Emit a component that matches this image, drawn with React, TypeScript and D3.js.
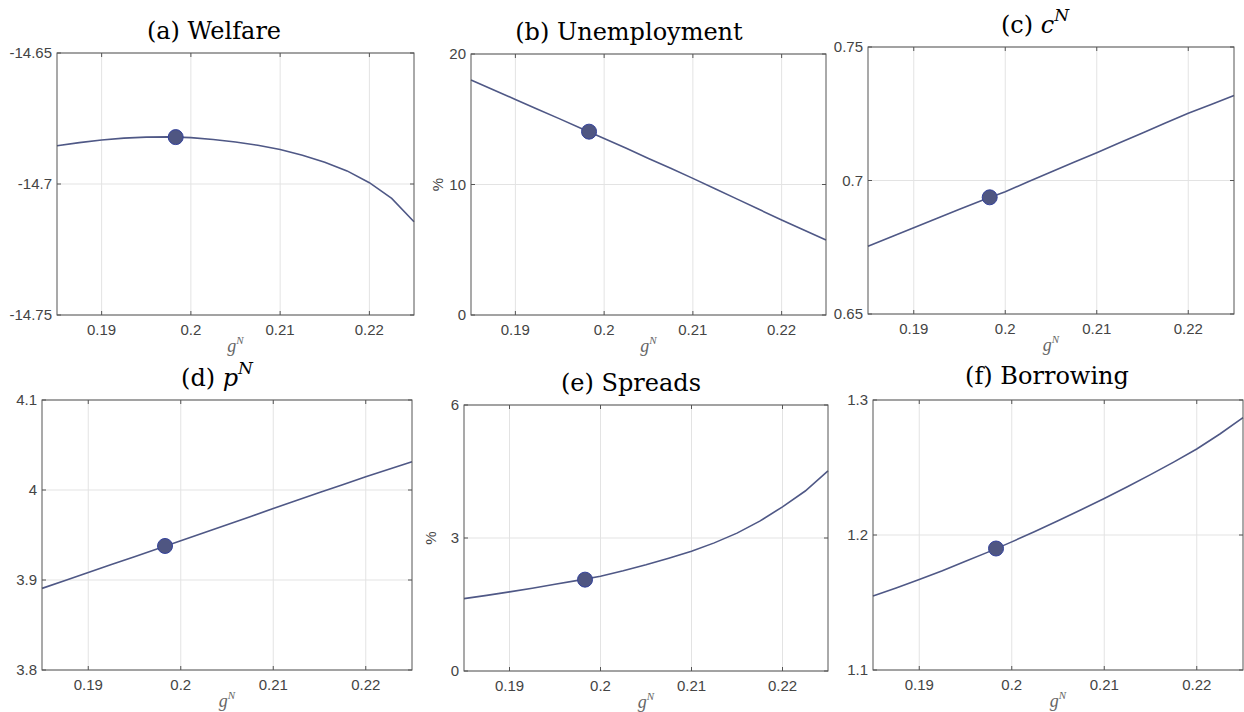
import React from 'react';
import * as d3 from 'd3';

// g^N grid (horizontal axis of every panel)
const gGrid = [
  0.185, 0.1875, 0.19, 0.1925, 0.195, 0.1975, 0.2, 0.2025, 0.205,
  0.2075, 0.21, 0.2125, 0.215, 0.2175, 0.22, 0.2225, 0.225,
];

// series
const welfare = [
  -14.6854, -14.6842, -14.6832, -14.6825, -14.6821, -14.682, -14.6823, -14.683, -14.684,
  -14.6852, -14.6868, -14.689, -14.6917, -14.695, -14.6995, -14.7055, -14.7144,
];
const unemployment = [
  18.0, 17.26, 16.52, 15.77, 15.03, 14.28, 13.53, 12.77, 12.0,
  11.24, 10.47, 9.68, 8.88, 8.08, 7.28, 6.51, 5.75,
];
const consumptionN = [
  0.6754, 0.6788, 0.6823, 0.6858, 0.6892, 0.6926, 0.6958, 0.6995, 0.7032,
  0.7068, 0.7104, 0.7141, 0.7178, 0.7215, 0.7252, 0.7285, 0.7318,
];
const priceN = [
  3.8907, 3.8995, 3.9083, 3.9171, 3.9259, 3.9347, 3.9435, 3.9524, 3.9613,
  3.9702, 3.9795, 3.9883, 3.9971, 4.0059, 4.0146, 4.023, 4.0314,
];
const spreads = [
  1.633, 1.705, 1.784, 1.866, 1.958, 2.045, 2.138, 2.26, 2.395,
  2.545, 2.703, 2.89, 3.11, 3.38, 3.703, 4.06, 4.516,
];
const borrowing = [
  1.1549, 1.1608, 1.167, 1.1735, 1.1805, 1.1875, 1.1949, 1.2026, 1.2105,
  1.2187, 1.227, 1.2357, 1.2447, 1.254, 1.2637, 1.2748, 1.2869,
];

// calibrated point (circle marker)
const markerG = 0.1983;
const markerValues = [-14.6821, 14.05, 0.6937, 3.9378, 2.061, 1.19];

const xDomain = [0.185, 0.225];
const xTicks = [0.19, 0.2, 0.21, 0.22];

const titlePrefix = ['(a)', '(b)', '(c)', '(d)', '(e)', '(f)'];
const titleName = ['Welfare', 'Unemployment', 'c', 'p', 'Spreads', 'Borrowing'];
const titleSup = ['', '', 'N', 'N', '', ''];
const yDomains = [[-14.75, -14.65], [0, 20], [0.65, 0.75], [3.8, 4.1], [0, 6], [1.1, 1.3]];
const yTicks = [
  [-14.75, -14.7, -14.65],
  [0, 10, 20],
  [0.65, 0.7, 0.75],
  [3.8, 3.9, 4, 4.1],
  [0, 3, 6],
  [1.1, 1.2, 1.3],
];
const yUnits = ['', '%', '', '', '%', ''];
const series = [welfare, unemployment, consumptionN, priceN, spreads, borrowing];

const layout = [
  { left: 57, top: 53, right: 414, bottom: 315, titleX: 214, titleY: 39 },
  { left: 471, top: 54, right: 826, bottom: 315, titleX: 629, titleY: 40 },
  { left: 868, top: 47, right: 1234, bottom: 314, titleX: 1035, titleY: 33 },
  { left: 42, top: 400, right: 412, bottom: 670, titleX: 217, titleY: 386 },
  { left: 464, top: 405, right: 828, bottom: 671, titleX: 631, titleY: 391 },
  { left: 873, top: 400, right: 1243, bottom: 670, titleX: 1047, titleY: 384 },
];

const LINE = '#4f5886';
const GRID = '#e3e3e3';
const AXIS = '#555555';
const TICKTXT = '#444444';
const sans = '"Liberation Sans", Arial, sans-serif';
const serif = '"DejaVu Serif", "Liberation Serif", serif';

const Panel = ({ i }: { i: number }) => {
  const b = layout[i];
  const x = d3.scaleLinear().domain(xDomain).range([b.left, b.right]);
  const y = d3.scaleLinear().domain(yDomains[i]).range([b.bottom, b.top]);
  const line = d3
    .line<number>()
    .x((_, k) => x(gGrid[k]))
    .y((d) => y(d));
  const tk = 4;
  const midY = (b.top + b.bottom) / 2;

  return (
    <g>
      {/* grid */}
      {xTicks.map((t) => (
        <line key={'gx' + t} x1={x(t)} x2={x(t)} y1={b.top} y2={b.bottom} stroke={GRID} strokeWidth={1} />
      ))}
      {yTicks[i].map((t) => (
        <line key={'gy' + t} x1={b.left} x2={b.right} y1={y(t)} y2={y(t)} stroke={GRID} strokeWidth={1} />
      ))}

      {/* curve + marker */}
      <path d={line(series[i]) || ''} fill="none" stroke={LINE} strokeWidth={1.6} />
      <circle cx={x(markerG)} cy={y(markerValues[i])} r={7.5} fill="#4f5682" stroke="#34429c" strokeWidth={1} />

      {/* box */}
      <rect x={b.left} y={b.top} width={b.right - b.left} height={b.bottom - b.top} fill="none" stroke={AXIS} strokeWidth={1} />

      {/* ticks on all four sides */}
      {xTicks.map((t) => (
        <g key={'tx' + t}>
          <line x1={x(t)} x2={x(t)} y1={b.bottom} y2={b.bottom - tk} stroke={AXIS} />
          <line x1={x(t)} x2={x(t)} y1={b.top} y2={b.top + tk} stroke={AXIS} />
          <text x={x(t)} y={b.bottom + 20} textAnchor="middle" fontFamily={sans} fontSize={15} fill={TICKTXT}>
            {String(t)}
          </text>
        </g>
      ))}
      {yTicks[i].map((t) => (
        <g key={'ty' + t}>
          <line x1={b.left} x2={b.left + tk} y1={y(t)} y2={y(t)} stroke={AXIS} />
          <line x1={b.right} x2={b.right - tk} y1={y(t)} y2={y(t)} stroke={AXIS} />
          <text x={b.left - 5} y={y(t)} dy="0.35em" textAnchor="end" fontFamily={sans} fontSize={15} fill={TICKTXT}>
            {String(t)}
          </text>
        </g>
      ))}

      {/* y unit */}
      {yUnits[i] && (
        <text
          transform={`translate(${b.left - 33},${midY}) rotate(-90)`}
          textAnchor="middle"
          dy="0.35em"
          fontFamily={sans}
          fontSize={15}
          fill={TICKTXT}
        >
          {yUnits[i]}
        </text>
      )}

      {/* x label g^N */}
      <text x={(b.left + b.right) / 2} y={b.bottom + 37} textAnchor="middle" fontFamily='"Liberation Serif", serif' fontStyle="italic" fontSize={18} fill="#666">
        g
        <tspan dy={-8} fontSize={11}>N</tspan>
      </text>

      {/* title */}
      <text x={b.titleX} y={b.titleY} textAnchor="middle" fontFamily={serif} fontSize={24} fill="#000">
        {titlePrefix[i] + ' '}
        {titleSup[i] ? (
          <>
            <tspan fontStyle="italic">{titleName[i]}</tspan>
            <tspan dy={-12} fontSize={17} fontStyle="italic">
              {titleSup[i]}
            </tspan>
          </>
        ) : (
          titleName[i]
        )}
      </text>
    </g>
  );
};

export default function App() {
  return (
    <svg
      width={1244}
      height={712}
      style={{ position: 'absolute', left: 0, top: 0, background: '#fff' }}
    >
      {layout.map((_, i) => (
        <Panel key={i} i={i} />
      ))}
    </svg>
  );
}
